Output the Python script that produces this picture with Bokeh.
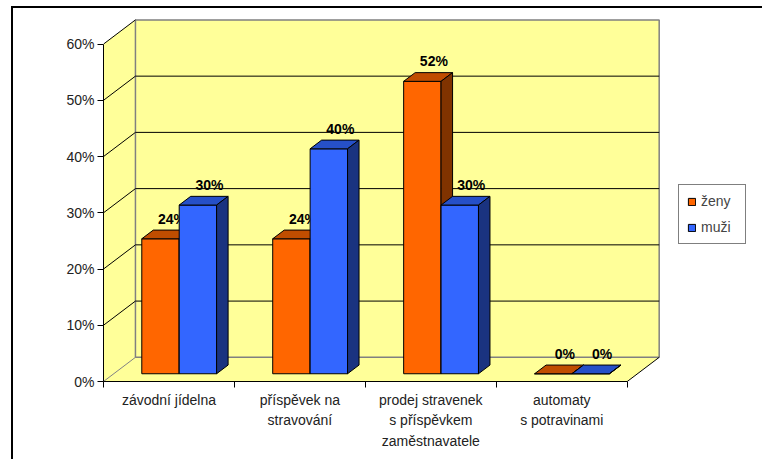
from bokeh.plotting import figure
from bokeh.models import (FixedTicker, PrintfTickFormatter, Legend, LegendItem,
                          ColumnDataSource)
from bokeh.core.properties import value
from bokeh.embed import file_html
from bokeh.resources import INLINE

# ---- data -------------------------------------------------------------
categories = ["závodní jídelna", "příspěvek na\nstravování",
              "prodej stravenek\ns příspěvkem\nzaměstnavatele",
              "automaty\ns potravinami"]
zeny = [24, 24, 52, 0]
muzi = [30, 40, 30, 0]
series_names = ["ženy", "muži"]
y_ticks = [0, 10, 20, 30, 40, 50, 60]

# ---- style ------------------------------------------------------------
FONT = "Liberation Sans"
WALL = "#FFFF99"
FACE = {"ženy": ("#FF6600", "#C04D00", "#803300"),
        "muži": ("#3366FF", "#2650C8", "#1A3380")}

# oblique 3-D projection, expressed in data units
DX, DY = 0.244, 4.3          # depth vector of the whole box
F0, F1 = 0.32, 0.68          # bars occupy this slice of the depth
BW = 0.2857                  # bar width (gap width 150 %)
YMAX = 60

# the chart area is framed on its left and top edge
p = figure(frame_width=557, frame_height=363,
           output_backend="svg", toolbar_location=None,
           x_range=(0, 4 + DX + 0.01), y_range=(0, YMAX + DY + 0.25),
           min_border_left=90, min_border_right=89,
           min_border_top=10, min_border_bottom=78,
           margin=(6, 0, 0, 11),
           styles={"border-left": "2px solid black",
                   "border-top": "2px solid black"})
p.background_fill_color = "white"
p.border_fill_color = "white"
p.outline_line_color = None
p.grid.visible = False

# ---- walls -------------------------------------------------------------
p.patch([0, 0, DX, DX], [0, YMAX, YMAX + DY, DY], fill_color=WALL, line_color=None)
p.patch([0, 4, 4 + DX, DX], [0, 0, DY, DY], fill_color=WALL, line_color=None)
p.quad(left=DX, right=4 + DX, bottom=DY, top=YMAX + DY, fill_color=WALL,
       line_color="#808080", line_width=1.5)

inner = [t for t in y_ticks if 0 < t < YMAX]
p.segment(x0=[DX] * len(inner), y0=[t + DY for t in inner],
          x1=[4 + DX] * len(inner), y1=[t + DY for t in inner],
          line_color="black", line_width=1)
side = [t for t in y_ticks if t > 0]
p.segment(x0=[0] * len(side), y0=side, x1=[DX] * len(side),
          y1=[t + DY for t in side], line_color="black", line_width=1)
p.segment(x0=[0], y0=[0], x1=[DX], y1=[DY], line_color="#808080", line_width=1)
p.segment(x0=[4], y0=[0], x1=[4 + DX], y1=[DY], line_color="black", line_width=1)

# ---- bars ---------------------------------------------------------------
legend_renderers = {}
for si, (name, vals) in enumerate(zip(series_names, [zeny, muzi])):
    front, top, side_c = FACE[name]
    x0s = [i + 0.5 - BW + si * BW for i in range(len(vals))]
    fl = [x + F0 * DX for x in x0s]
    fr = [x + BW + F0 * DX for x in x0s]
    fb = [F0 * DY] * len(vals)
    ft = [v + F0 * DY for v in vals]
    r = p.quad(left=fl, right=fr, bottom=fb, top=ft, fill_color=front,
               line_color="black", line_width=1)
    legend_renderers[name] = r
    tops_x = [[x + F0 * DX, x + BW + F0 * DX, x + BW + F1 * DX, x + F1 * DX]
              for x in x0s]
    tops_y = [[v + F0 * DY, v + F0 * DY, v + F1 * DY, v + F1 * DY] for v in vals]
    p.patches(tops_x, tops_y, fill_color=top, line_color="black", line_width=1)
    sides_x = [[x + BW + F0 * DX, x + BW + F1 * DX, x + BW + F1 * DX, x + BW + F0 * DX]
               for x in x0s]
    sides_y = [[F0 * DY, F1 * DY, v + F1 * DY, v + F0 * DY] for v in vals]
    p.patches(sides_x, sides_y, fill_color=side_c, line_color="black", line_width=1)

    lab = ColumnDataSource(dict(
        x=[x + BW / 2 + F1 * DX for x in x0s],
        y=[v + F1 * DY + 2.0 for v in vals],
        t=[f"{v}%" for v in vals]))
    p.text(x="x", y="y", text="t", source=lab, text_align="center",
           text_baseline="middle", text_font=value(FONT),
           text_font_size="14px", text_font_style="bold", text_color="black")

# ---- axes -------------------------------------------------------------
ya = p.yaxis[0]
ya.bounds = (0, YMAX)
ya.ticker = FixedTicker(ticks=y_ticks, minor_ticks=[])
ya.formatter = PrintfTickFormatter(format="%d%%")
ya.major_tick_out = 6
ya.major_tick_in = 0
ya.minor_tick_out = 0
ya.major_label_standoff = 3
ya.axis_line_color = "black"
ya.major_tick_line_color = "black"
ya.major_label_text_font = FONT
ya.major_label_text_font_size = "14px"
ya.major_label_text_color = "#222222"

xa = p.xaxis[0]
xa.bounds = (0, 4)
xa.ticker = FixedTicker(ticks=[0.5, 1.5, 2.5, 3.5], minor_ticks=[0, 1, 2, 3, 4])
xa.major_label_overrides = {0.5: categories[0], 1.5: categories[1],
                            2.5: categories[2], 3.5: categories[3]}
xa.major_tick_out = 0
xa.major_tick_in = 0
xa.minor_tick_out = 6
xa.minor_tick_in = 0
xa.minor_tick_line_color = "black"
xa.major_label_standoff = 4
xa.axis_line_color = "black"
xa.major_label_text_font = FONT
xa.major_label_text_font_size = "14px"
xa.major_label_text_color = "#222222"
xa.major_label_text_line_height = 1.3

# ---- legend -------------------------------------------------------------
legend = Legend(items=[LegendItem(label=n, renderers=[legend_renderers[n]])
                       for n in series_names],
                location=(18, 137), border_line_color="black",
                border_line_width=1, background_fill_color="white",
                background_fill_alpha=1, padding=8, spacing=10,
                label_height=16, label_width=36, glyph_width=9, glyph_height=9,
                label_standoff=5, label_text_font=FONT,
                label_text_font_size="14px", margin=18)
p.add_layout(legend, "right")

open("out.html", "w").write(file_html(p, INLINE))
